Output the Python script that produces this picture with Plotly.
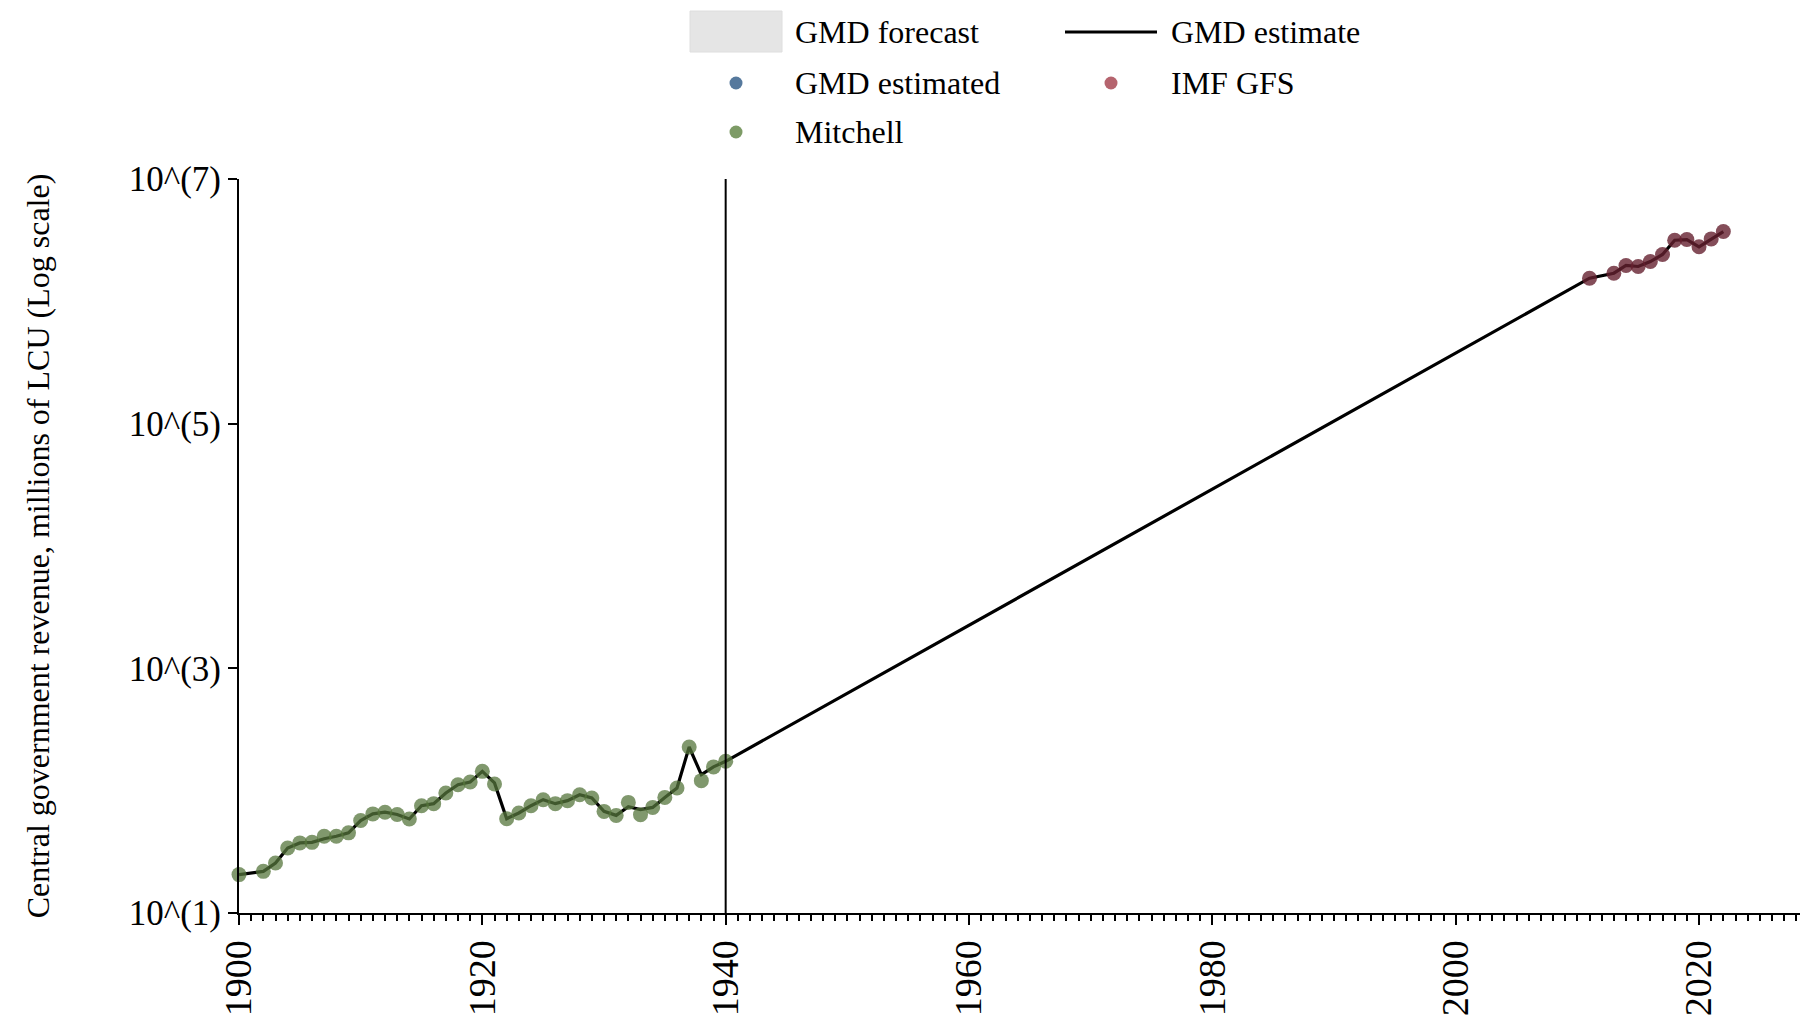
import plotly.graph_objects as go

# ---------------- data ----------------
mitchell_years = [1900, 1902, 1903, 1904, 1905, 1906, 1907, 1908, 1909, 1910,
                  1911, 1912, 1913, 1914, 1915, 1916, 1917, 1918, 1919, 1920,
                  1921, 1922, 1923, 1924, 1925, 1926, 1927, 1928, 1929, 1930,
                  1931, 1932, 1933, 1934, 1935, 1936, 1937, 1938, 1939, 1940]
mitchell_values = [20.6, 21.9, 25.6, 34.0, 37.4, 37.8, 42.4, 42.4, 45.2, 57.0,
                   64.6, 66.7, 63.9, 58.7, 75.3, 78.3, 95.8, 111.9, 117.7, 143.8,
                   113.5, 59.0, 65.7, 75.3, 84.4, 78.3, 82.9, 92.7, 87.1, 67.7,
                   62.8, 80.2, 63.7, 73.0, 88.1, 105.2, 227.5, 120.8, 156.4, 173.8]

imf_years = [2011, 2013, 2014, 2015, 2016, 2017, 2018, 2019, 2020, 2021, 2022]
imf_values = [1.545e6, 1.698e6, 1.963e6, 1.927e6, 2.115e6, 2.414e6,
              3.16e6, 3.20e6, 2.79e6, 3.24e6, 3.72e6]

gmd_years = [1900, 1901, 1902, 1903, 1904, 1905, 1906, 1907, 1908, 1909,
             1910, 1911, 1912, 1913, 1914, 1915, 1916, 1917, 1918, 1919,
             1920, 1921, 1922, 1923, 1924, 1925, 1926, 1927, 1928, 1929,
             1930, 1931, 1932, 1933, 1934, 1935, 1936, 1937, 1938, 1939,
             1940, 2011, 2012, 2013, 2014, 2015, 2016, 2017, 2018, 2019,
             2020, 2021, 2022]
gmd_values = [20.6, 21.2, 21.9, 25.6, 34.0, 37.4, 37.8, 40.5, 42.4, 45.2,
              57.0, 64.6, 66.7, 63.9, 58.7, 75.3, 78.3, 95.8, 111.9, 117.7,
              143.8, 115.6, 59.0, 65.7, 75.3, 84.4, 78.3, 82.9, 92.7, 87.1,
              67.7, 62.8, 74.0, 70.0, 73.0, 88.1, 105.2, 227.5, 135.0, 156.4,
              173.8, 1.545e6, 1.62e6, 1.698e6, 1.963e6, 1.927e6, 2.115e6, 2.414e6,
              3.16e6, 3.20e6, 2.79e6, 3.24e6, 3.72e6]

y_tickvals = [1e1, 1e3, 1e5, 1e7]
y_ticktext = ["10^(1)", "10^(3)", "10^(5)", "10^(7)"]
marker_year = 1940

legend_labels = ["GMD forecast", "GMD estimate", "GMD estimated", "IMF GFS", "Mitchell"]
y_title = "Central government revenue, millions of LCU (Log scale)"

# ---------------- styling ----------------
FONT = "Liberation Serif"
W, H = 1800, 1017
ML, MR, MT, MB = 239, 0, 179, 104
PW, PH = W - ML - MR, H - MT - MB


def px(xpage):
    return (xpage - ML) / PW


def py(ypage):
    return (H - MB - ypage) / PH


fig = go.Figure()

fig.add_trace(go.Scatter(
    x=gmd_years, y=gmd_values, mode="lines",
    line=dict(color="black", width=3.2), showlegend=False, name="GMD estimate"))

fig.add_trace(go.Scatter(
    x=mitchell_years, y=mitchell_values, mode="markers", cliponaxis=False,
    marker=dict(color="#55763c", size=15, opacity=0.75, line=dict(width=0)),
    showlegend=False, name="Mitchell"))

fig.add_trace(go.Scatter(
    x=imf_years, y=imf_values, mode="markers", cliponaxis=False,
    marker=dict(color="#65202f", size=15, opacity=0.8, line=dict(width=0)),
    showlegend=False, name="IMF GFS"))

shapes = []
annotations = []

# vertical reference line
shapes.append(dict(type="line", xref="x", yref="paper", x0=marker_year, x1=marker_year,
                   y0=0, y1=1, line=dict(color="black", width=2)))

# ---- manual legend ----
col1_sym, col2_sym = 736, 1111
col1_txt, col2_txt = 793, 1169
rows = [32, 83, 132]

shapes.append(dict(type="rect", xref="paper", yref="paper",
                   x0=px(690), x1=px(782), y0=py(52), y1=py(11),
                   fillcolor="#e5e5e5", line=dict(color="#dedede", width=1)))
shapes.append(dict(type="line", xref="paper", yref="paper",
                   x0=px(1065), x1=px(1157), y0=py(rows[0]), y1=py(rows[0]),
                   line=dict(color="black", width=3)))
for cx, cy, col in [(col1_sym, rows[1], "#56799d"), (col2_sym, rows[1], "#b5646e"),
                    (col1_sym, rows[2], "#7d9b66")]:
    shapes.append(dict(type="circle", xref="paper", yref="paper",
                       xsizemode="pixel", ysizemode="pixel",
                       xanchor=px(cx), yanchor=py(cy),
                       x0=-6.5, x1=6.5, y0=-6.5, y1=6.5,
                       fillcolor=col, line=dict(width=0)))

for (tx, ty), label in zip([(col1_txt, rows[0]), (col2_txt, rows[0]),
                            (col1_txt, rows[1]), (col2_txt, rows[1]),
                            (col1_txt, rows[2])], legend_labels):
    annotations.append(dict(text=label, xref="paper", yref="paper",
                            x=px(tx), y=py(ty), xanchor="left", yanchor="middle",
                            showarrow=False, font=dict(family=FONT, size=32, color="black")))

fig.update_layout(
    width=W, height=H,
    margin=dict(l=ML, r=MR, t=MT, b=MB),
    paper_bgcolor="white", plot_bgcolor="white",
    font=dict(family=FONT, color="black"),
    shapes=shapes, annotations=annotations,
    showlegend=False,
    xaxis=dict(
        range=[1900, 2028.3], tickmode="linear", tick0=1900, dtick=20,
        ticks="outside", ticklen=10, tickwidth=2, tickcolor="black",
        tickangle=-90, tickfont=dict(family=FONT, size=38, color="black"),
        showline=True, linewidth=2, linecolor="black",
        showgrid=False, zeroline=False,
        minor=dict(ticks="outside", tick0=1900, dtick=1, ticklen=6, tickwidth=2,
                   tickcolor="black", showgrid=False),
    ),
    yaxis=dict(
        type="log", range=[1, 7], tickmode="array",
        tickvals=y_tickvals, ticktext=y_ticktext,
        ticks="outside", ticklen=9, tickwidth=2, tickcolor="black",
        tickfont=dict(family=FONT, size=35, color="black"),
        showline=True, linewidth=2, linecolor="black",
        showgrid=False, zeroline=False,
        title=dict(text=y_title, font=dict(family=FONT, size=32, color="black"), standoff=70),
    ),
)

fig.write_html(
    "out.html",
    config={"displayModeBar": False},
    post_script="document.body.style.margin='0';document.body.style.overflow='hidden';",
)
